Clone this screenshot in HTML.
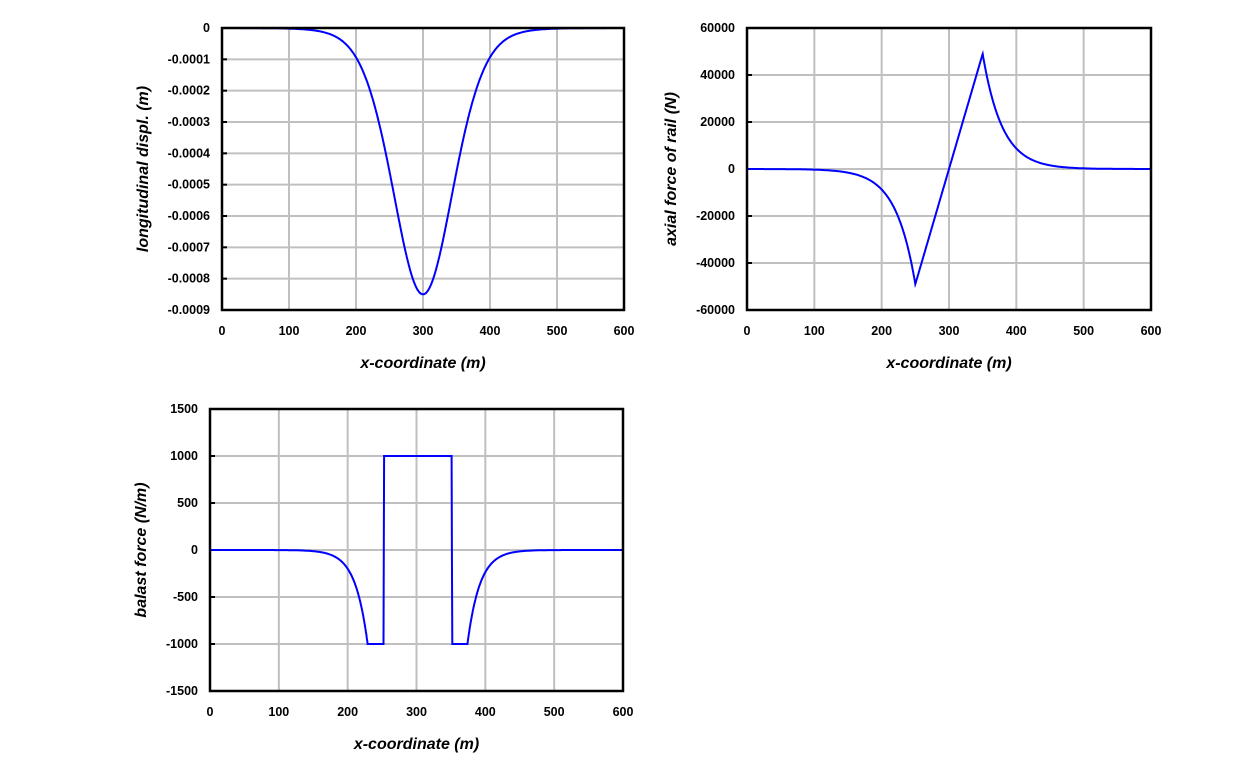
<!DOCTYPE html>
<html><head><meta charset="utf-8"><style>
body{margin:0;background:#fff;width:1260px;height:763px;overflow:hidden}
svg{font-family:"Liberation Sans",Arial,sans-serif}
.t{font-size:12.5px;font-weight:bold}
.a{font-size:16px;font-weight:bold;font-style:italic}
</style></head><body>
<svg id="s" width="1260" height="763" xmlns="http://www.w3.org/2000/svg"></svg>
<script>
const s=document.getElementById('s');let h='';
function chart(L,R,T,B,ymin,ymax,ystep,ylab,yfmt,f,txl,tyl){
  const X=x=>L+(R-L)*x/600, Y=v=>T+(B-T)*(ymax-v)/(ymax-ymin);
  for(let i=1;i<6;i++)h+=`<line x1="${X(i*100)}" y1="${T}" x2="${X(i*100)}" y2="${B}" stroke="#c0c0c0" stroke-width="2"/>`;
  const n=Math.round((ymax-ymin)/ystep);
  for(let i=1;i<n;i++){const y=T+(B-T)*i/n;h+=`<line x1="${L}" y1="${y}" x2="${R}" y2="${y}" stroke="#c0c0c0" stroke-width="2"/>`;}
  for(let i=0;i<=n;i++){const v=ymax-i*ystep,y=T+(B-T)*i/n;h+=`<text class="t" x="${L-12}" y="${y+4}" text-anchor="end">${yfmt(v)}</text>`;h+=`<line x1="${L}" y1="${y}" x2="${L+5}" y2="${y}" stroke="#000" stroke-width="2"/>`;}
  for(let i=0;i<=6;i++)h+=`<text class="t" x="${X(i*100)}" y="${B+25}" text-anchor="middle">${i*100}</text>`;
  let p='';for(let x=0;x<=600;x+=0.5)p+=(x?'L':'M')+X(x).toFixed(1)+','+Y(f(x)).toFixed(1);
  h+=`<path d="${p}" fill="none" stroke="#0000ff" stroke-width="2"/>`;
  h+=`<rect x="${L}" y="${T}" width="${R-L}" height="${B-T}" fill="none" stroke="#000" stroke-width="2.5"/>`;
  h+=`<text class="a" x="${(L+R)/2}" y="${B+58}" text-anchor="middle">x-coordinate (m)</text>`;
  h+=`<text class="a" transform="translate(${tyl},${(T+B)/2}) rotate(-90)" text-anchor="middle">${ylab}</text>`;
}
const u=x=>{const g=Math.exp(-Math.pow(x-300,2)/(2*2115));const c=1/Math.cosh((x-300)/59);return -0.00085*(0.5*g+0.5*c*c);};
const N=x=>x<250?-49000*Math.exp((x-250)/29):x>350?49000*Math.exp((350-x)/29):-49000+980*(x-250);
const b=x=>x<229?-1000*Math.exp((x-229)/18):x<252?-1000:x<253?-1000+2000*(x-252):x<351?1000:x<352?1000-2000*(x-351):x<374?-1000:-1000*Math.exp((374-x)/18);
chart(222,624,28,310,-0.0009,0,0.0001,'longitudinal displ. (m)',v=>Math.abs(v)<1e-9?'0':v.toFixed(4),u,0,148);
chart(747,1151,28,310,-60000,60000,20000,'axial force of rail (N)',v=>String(Math.round(v)),N,0,676);
chart(210,623,409,691,-1500,1500,500,'balast force (N/m)',v=>String(Math.round(v)),b,0,146);
s.innerHTML=h;
</script>
</body></html>
